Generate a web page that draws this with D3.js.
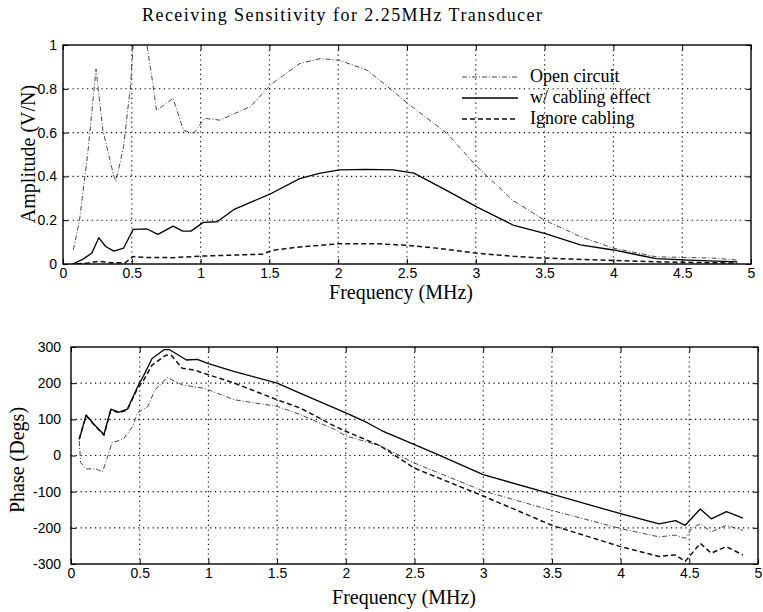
<!DOCTYPE html>
<html>
<head>
<meta charset="utf-8">
<script src="https://cdn.jsdelivr.net/npm/d3@7"></script>
<style>
  body { margin: 0; background: #fff; }
  .tick text { font-family: "Liberation Sans", Arial, sans-serif; font-size: 14px; fill: #000; }
  .lbl { font-family: "Liberation Serif", "Times New Roman", serif; fill: #000; }
</style>
</head>
<body>
<svg id="chart" width="763" height="612"></svg>
<script>
// amplitude data (MHz, V/N)
var ampFreqOpen = [0.075, 0.12, 0.18, 0.24, 0.29, 0.37, 0.385, 0.44, 0.49, 0.51, 0.55, 0.61, 0.656, 0.68, 0.80, 0.875, 0.95, 1.03, 1.14, 1.36, 1.52, 1.72, 1.87, 2.01, 2.21, 2.30, 2.52, 2.79, 3.01, 3.27, 3.50, 3.76, 4.00, 4.31, 4.72, 4.90];
var ampOpen     = [0.064, 0.2, 0.505, 0.89, 0.61, 0.40, 0.377, 0.536, 0.81, 1.0, 1.12, 1.0, 0.81, 0.70, 0.757, 0.61, 0.597, 0.665, 0.657, 0.718, 0.824, 0.915, 0.938, 0.93, 0.885, 0.84, 0.726, 0.597, 0.444, 0.29, 0.20, 0.125, 0.072, 0.033, 0.027, 0.018];

var ampFreqCab = [0.07, 0.14, 0.21, 0.26, 0.31, 0.37, 0.44, 0.51, 0.61, 0.69, 0.80, 0.87, 0.93, 1.02, 1.12, 1.24, 1.52, 1.72, 1.87, 2.01, 2.2, 2.4, 2.55, 2.76, 3.01, 3.27, 3.50, 3.76, 4.00, 4.19, 4.31, 4.55, 4.90];
var ampCab     = [0.0, 0.02, 0.05, 0.12, 0.08, 0.059, 0.072, 0.158, 0.16, 0.135, 0.173, 0.15, 0.15, 0.19, 0.193, 0.248, 0.324, 0.39, 0.415, 0.43, 0.432, 0.43, 0.415, 0.345, 0.26, 0.178, 0.14, 0.087, 0.064, 0.04, 0.025, 0.018, 0.01];

var ampFreqIgn = [0.10, 0.18, 0.26, 0.35, 0.45, 0.51, 0.6, 0.8, 1.0, 1.2, 1.45, 1.52, 1.72, 2.0, 2.3, 2.5, 2.75, 3.0, 3.27, 3.5, 4.0, 4.3, 4.7, 4.9];
var ampIgn     = [0.0, 0.004, 0.012, 0.006, 0.005, 0.034, 0.03, 0.029, 0.036, 0.04, 0.045, 0.062, 0.078, 0.092, 0.092, 0.085, 0.07, 0.05, 0.035, 0.027, 0.016, 0.01, 0.006, 0.004];

// phase data (MHz, degrees)
var phFreqOpen = [0.06, 0.07, 0.11, 0.18, 0.23, 0.30, 0.38, 0.45, 0.485, 0.56, 0.61, 0.70, 0.81, 0.9, 0.97, 1.19, 1.5, 1.67, 1.92, 2.0, 2.25, 2.5, 3.0, 3.5, 4.0, 4.28, 4.4, 4.47, 4.52, 4.58, 4.66, 4.77, 4.89];
var phOpen     = [40, -19, -37, -37, -45, 36, 45, 81, 118, 136, 181, 216, 195, 190, 186, 154, 136, 113, 72, 54, 27, -21, -98, -152, -202, -225, -220, -229, -200, -189, -211, -193, -207];

var phFreqCab = [0.06, 0.11, 0.17, 0.24, 0.29, 0.35, 0.41, 0.485, 0.53, 0.59, 0.68, 0.715, 0.84, 0.92, 1.0, 1.19, 1.5, 1.67, 1.92, 2.0, 2.16, 2.26, 2.65, 3.0, 3.5, 4.0, 4.28, 4.4, 4.47, 4.58, 4.66, 4.77, 4.89];
var phCab     = [45, 112, 85, 58, 128, 120, 128, 190, 222, 268, 293, 293, 264, 266, 254, 232, 200, 172, 131, 118, 90, 69, 6, -53, -107, -161, -189, -180, -193, -148, -175, -155, -173];

var phFreqIgn = [0.06, 0.11, 0.17, 0.24, 0.29, 0.35, 0.41, 0.485, 0.53, 0.59, 0.69, 0.73, 0.81, 0.9, 0.97, 1.19, 1.5, 1.67, 1.92, 2.0, 2.25, 2.5, 3.0, 3.5, 4.0, 4.28, 4.4, 4.47, 4.58, 4.66, 4.77, 4.89];
var phIgn     = [45, 110, 84, 56, 126, 118, 126, 186, 209, 250, 277, 277, 241, 236, 227, 200, 154, 131, 81, 67, 27, -35, -112, -193, -252, -279, -275, -293, -243, -270, -252, -275];

var freqTicks = [0, 0.5, 1, 1.5, 2, 2.5, 3, 3.5, 4, 4.5, 5];
var ampTicks = [0, 0.2, 0.4, 0.6, 0.8, 1];
var phaseTicks = [-300, -200, -100, 0, 100, 200, 300];

var legendNames = ["Open circuit", "w/ cabling effect", "Ignore cabling"];

var styles = {
  open: {width: 0.9, dash: "5,2,1,2", color: "#333"},
  cab:  {width: 1.3, dash: null, color: "#000"},
  ign:  {width: 1.5, dash: "5,3", color: "#111"}
};

var svg = d3.select("#chart");

function zip(xs, ys) { return xs.map(function(d, i) { return [d, ys[i]]; }); }

function panel(id, box, yDomain, yTicks, yPad, series) {
  var x = d3.scaleLinear().domain([0, 5]).range([box.left, box.right]);
  var y = d3.scaleLinear().domain(yDomain).range([box.bottom, box.top]);
  var g = svg.append("g");

  g.append("clipPath").attr("id", id)
    .append("rect")
    .attr("x", box.left).attr("y", box.top)
    .attr("width", box.right - box.left).attr("height", box.bottom - box.top);

  // dotted grid
  g.selectAll(".vg").data(freqTicks.slice(1, -1)).enter().append("line")
    .attr("x1", x).attr("x2", x).attr("y1", box.top).attr("y2", box.bottom)
    .attr("stroke", "#000").attr("stroke-width", 1.1).attr("stroke-dasharray", "1.2,3.6");
  g.selectAll(".hg").data(yTicks.slice(1, -1)).enter().append("line")
    .attr("x1", box.left).attr("x2", box.right).attr("y1", y).attr("y2", y)
    .attr("stroke", "#000").attr("stroke-width", 1.1).attr("stroke-dasharray", "1.2,3.6");

  var fmt = function(d) { return String(d); };
  g.append("g").attr("transform", "translate(0," + box.bottom + ")")
    .call(d3.axisBottom(x).tickValues(freqTicks).tickFormat(fmt).tickSize(-5).tickPadding(4));
  g.append("g").attr("transform", "translate(0," + box.top + ")")
    .call(d3.axisTop(x).tickValues(freqTicks).tickFormat("").tickSize(-5));
  g.append("g").attr("transform", "translate(" + box.left + ",0)")
    .call(d3.axisLeft(y).tickValues(yTicks).tickFormat(fmt).tickSize(-5).tickPadding(yPad));
  g.append("g").attr("transform", "translate(" + box.right + ",0)")
    .call(d3.axisRight(y).tickValues(yTicks).tickFormat("").tickSize(-5));
  g.selectAll(".domain").remove();
  g.selectAll(".tick line").attr("stroke", "#000").attr("stroke-width", 1);

  var line = d3.line().x(function(d) { return x(d[0]); }).y(function(d) { return y(d[1]); });
  series.forEach(function(s) {
    var st = styles[s.key];
    g.append("path").datum(zip(s.xs, s.ys))
      .attr("clip-path", "url(#" + id + ")")
      .attr("d", line)
      .attr("fill", "none")
      .attr("stroke", st.color)
      .attr("stroke-width", st.width)
      .attr("stroke-dasharray", st.dash)
      .attr("stroke-linejoin", "round");
  });

  g.append("rect")
    .attr("x", box.left).attr("y", box.top)
    .attr("width", box.right - box.left).attr("height", box.bottom - box.top)
    .attr("fill", "none").attr("stroke", "#000").attr("stroke-width", 1.4);
  return {x: x, y: y, g: g};
}

panel("clipTop", {left: 63, right: 751, top: 45, bottom: 264}, [0, 1], ampTicks, 6, [
  {key: "open", xs: ampFreqOpen, ys: ampOpen},
  {key: "cab", xs: ampFreqCab, ys: ampCab},
  {key: "ign", xs: ampFreqIgn, ys: ampIgn}
]);

panel("clipBot", {left: 71, right: 758, top: 347, bottom: 564}, [-300, 300], phaseTicks, 10, [
  {key: "open", xs: phFreqOpen, ys: phOpen},
  {key: "cab", xs: phFreqCab, ys: phCab},
  {key: "ign", xs: phFreqIgn, ys: phIgn}
]);

// legend
var legKeys = ["open", "cab", "ign"];
var leg = svg.append("g");
legendNames.forEach(function(name, i) {
  var st = styles[legKeys[i]];
  var ly = 77 + i * 21;
  leg.append("line").attr("x1", 462).attr("x2", 518).attr("y1", ly).attr("y2", ly)
    .attr("stroke", st.color).attr("stroke-width", st.width).attr("stroke-dasharray", st.dash);
  leg.append("text").attr("class", "lbl").attr("x", 530).attr("y", ly + 5)
    .style("font-size", "18px").text(name);
});

// titles and axis labels
svg.append("text").attr("class", "lbl").attr("x", 342).attr("y", 21)
  .attr("text-anchor", "middle").style("font-size", "18px")
  .attr("textLength", 400).attr("lengthAdjust", "spacing")
  .text("Receiving Sensitivity for 2.25MHz Transducer");

svg.append("text").attr("class", "lbl").attr("x", 401).attr("y", 299)
  .attr("text-anchor", "middle").style("font-size", "20px")
  .text("Frequency (MHz)");
svg.append("text").attr("class", "lbl").attr("x", 404).attr("y", 604)
  .attr("text-anchor", "middle").style("font-size", "20px")
  .text("Frequency (MHz)");

svg.append("text").attr("class", "lbl")
  .attr("transform", "translate(35,154) rotate(-90)")
  .attr("text-anchor", "middle").style("font-size", "20px")
  .text("Amplitude (V/N)");
svg.append("text").attr("class", "lbl")
  .attr("transform", "translate(24,460) rotate(-90)")
  .attr("text-anchor", "middle").style("font-size", "20px")
  .text("Phase (Degs)");
</script>
</body>
</html>
